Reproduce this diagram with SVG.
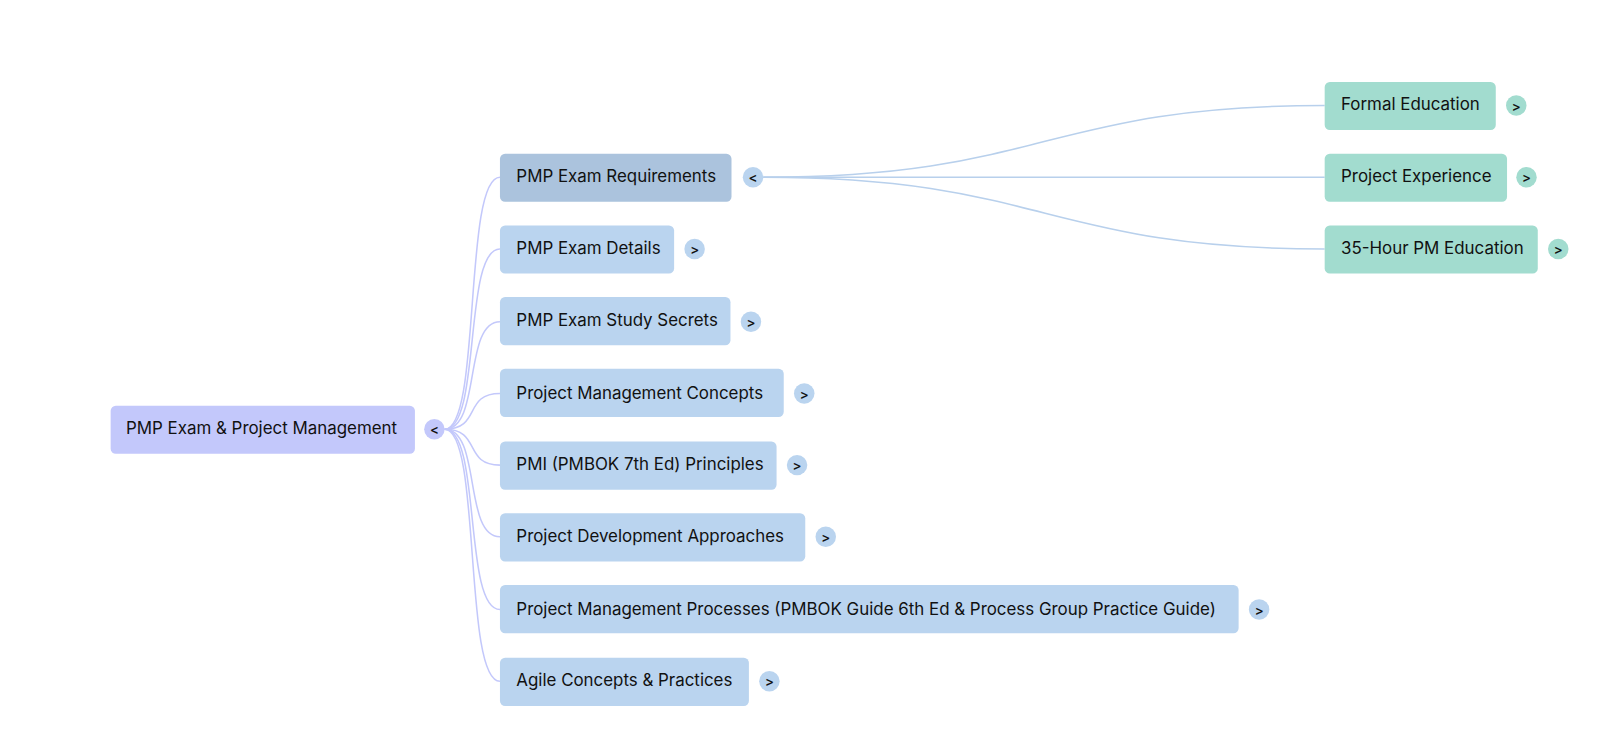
<svg xmlns="http://www.w3.org/2000/svg" width="1606" height="736" viewBox="0 0 1606 736">
<style>
text{font-family:Inter,"Open Sans","Liberation Sans",sans-serif;font-size:16.5px;fill:#111}
.t{font-size:13px;text-anchor:middle;font-weight:600}
.r{fill:#c3c8fb}.c{fill:#bad4ef}.s{fill:#abc3dd}.g{fill:#a2dccf}
.lr{fill:none;stroke:#c3c8fb;stroke-width:1.5}.lc{fill:none;stroke:#b8d0ec;stroke-width:1.5}
</style>
<rect width="1606" height="736" fill="#fff"/>
<g transform="scale(1.0245)">
<g id="connectors">
<path class="lr" d="M434 419 C470 419 452 173 488 173"/>
<path class="lr" d="M434 419 C470 419 452 243 488 243"/>
<path class="lr" d="M434 419 C470 419 452 314 488 314"/>
<path class="lr" d="M434 419 C470 419 452 384 488 384"/>
<path class="lr" d="M434 419 C470 419 452 454 488 454"/>
<path class="lr" d="M434 419 C470 419 452 524 488 524"/>
<path class="lr" d="M434 419 C470 419 452 595 488 595"/>
<path class="lr" d="M434 419 C470 419 452 665 488 665"/>
<path class="lc" d="M745 173 C1020 173 1020 103 1293 103"/>
<path class="lc" d="M745 173 L1293 173"/>
<path class="lc" d="M745 173 C1020 173 1020 243 1293 243"/>
</g>
<g id="root"><rect class="r" x="108" y="396" width="297" height="47" rx="5"/><text x="123" y="424">PMP Exam &amp; Project Management</text><circle class="r" cx="424" cy="419" r="10"/><text class="t" x="424" y="424">&lt;</text></g>
<g id="n1"><rect class="s" x="488" y="150" width="226" height="47" rx="5"/><text x="504" y="178">PMP Exam Requirements</text><circle class="c" cx="735" cy="173" r="10"/><text class="t" x="735" y="178">&lt;</text></g>
<g id="n2"><rect class="c" x="488" y="220" width="170" height="47" rx="5"/><text x="504" y="248">PMP Exam Details</text><circle class="c" cx="678" cy="243" r="10"/><text class="t" x="678" y="248">&gt;</text></g>
<g id="n3"><rect class="c" x="488" y="290" width="225" height="47" rx="5"/><text x="504" y="318">PMP Exam Study Secrets</text><circle class="c" cx="733" cy="314" r="10"/><text class="t" x="733" y="319">&gt;</text></g>
<g id="n4"><rect class="c" x="488" y="360" width="277" height="47" rx="5"/><text x="504" y="389">Project Management Concepts</text><circle class="c" cx="785" cy="384" r="10"/><text class="t" x="785" y="389">&gt;</text></g>
<g id="n5"><rect class="c" x="488" y="431" width="270" height="47" rx="5"/><text x="504" y="459">PMI (PMBOK 7th Ed) Principles</text><circle class="c" cx="778" cy="454" r="10"/><text class="t" x="778" y="459">&gt;</text></g>
<g id="n6"><rect class="c" x="488" y="501" width="298" height="47" rx="5"/><text x="504" y="529">Project Development Approaches</text><circle class="c" cx="806" cy="524" r="10"/><text class="t" x="806" y="529">&gt;</text></g>
<g id="n7"><rect class="c" x="488" y="571" width="721" height="47" rx="5"/><text x="504" y="600">Project Management Processes (PMBOK Guide 6th Ed &amp; Process Group Practice Guide)</text><circle class="c" cx="1229" cy="595" r="10"/><text class="t" x="1229" y="600">&gt;</text></g>
<g id="n8"><rect class="c" x="488" y="642" width="243" height="47" rx="5"/><text x="504" y="670">Agile Concepts &amp; Practices</text><circle class="c" cx="751" cy="665" r="10"/><text class="t" x="751" y="670">&gt;</text></g>
<g id="g1"><rect class="g" x="1293" y="80" width="167" height="47" rx="5"/><text x="1309" y="107">Formal Education</text><circle class="g" cx="1480" cy="103" r="10"/><text class="t" x="1480" y="108">&gt;</text></g>
<g id="g2"><rect class="g" x="1293" y="150" width="178" height="47" rx="5"/><text x="1309" y="178">Project Experience</text><circle class="g" cx="1490" cy="173" r="10"/><text class="t" x="1490" y="178">&gt;</text></g>
<g id="g3"><rect class="g" x="1293" y="220" width="208" height="47" rx="5"/><text x="1309" y="248">35-Hour PM Education</text><circle class="g" cx="1521" cy="243" r="10"/><text class="t" x="1521" y="248">&gt;</text></g>
</g>
</svg>
